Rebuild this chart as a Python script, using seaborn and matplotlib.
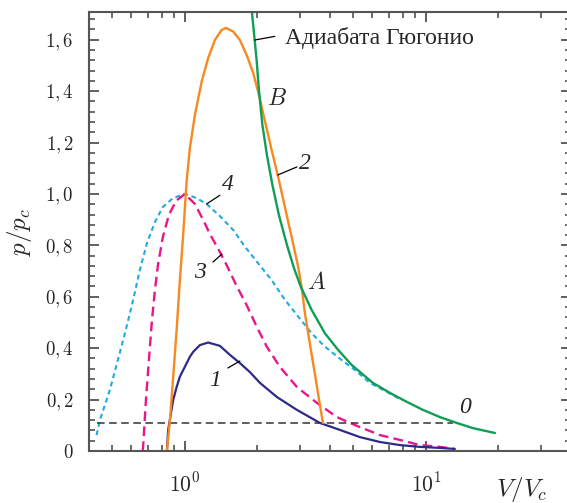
import numpy as np
import pandas as pd
import seaborn as sns
import matplotlib.pyplot as plt
from matplotlib.ticker import LogLocator, NullFormatter, FixedLocator

# curve 0: Hugoniot adiabat
v0 = [1.86, 1.897, 1.984, 2.028, 2.097, 2.189, 2.307, 2.455, 2.650, 2.834, 3.029, 3.356,
      3.810, 4.326, 4.917, 6.025, 7.090, 8.340, 9.719, 11.43, 13.45, 15.67, 19.34]
p0 = [1.80, 1.708, 1.521, 1.405, 1.268, 1.152, 1.035, 0.918, 0.802, 0.712, 0.638, 0.549,
      0.458, 0.393, 0.335, 0.265, 0.226, 0.191, 0.160, 0.132, 0.109, 0.089, 0.070]

# curve 1
v1 = [0.842, 0.852, 0.894, 0.924, 0.953, 1.000, 1.049, 1.083, 1.154, 1.249, 1.397, 1.537,
      1.691, 1.861, 2.048, 2.408, 2.915, 3.633, 4.397, 5.324, 6.445, 7.800, 9.443, 11.43, 13.19]
p1 = [0.000, 0.082, 0.198, 0.249, 0.289, 0.328, 0.367, 0.386, 0.412, 0.422, 0.409, 0.374,
      0.342, 0.307, 0.265, 0.210, 0.160, 0.109, 0.082, 0.054, 0.035, 0.023, 0.016, 0.012, 0.008]

# curve 2
v2 = [0.842, 0.867, 0.894, 0.924, 0.953, 0.984, 1.016, 1.049, 1.100, 1.173, 1.249, 1.332,
      1.420, 1.480, 1.586, 1.691, 1.803, 1.920, 2.014, 2.148, 2.290, 2.438, 2.600, 2.772,
      2.952, 3.050, 3.147, 3.302, 3.462, 3.633, 3.739]
p2 = [0.000, 0.121, 0.288, 0.471, 0.665, 0.844, 1.047, 1.179, 1.307, 1.436, 1.529, 1.599,
      1.638, 1.646, 1.632, 1.599, 1.541, 1.471, 1.397, 1.284, 1.171, 1.066, 0.949, 0.833,
      0.716, 0.638, 0.537, 0.416, 0.300, 0.179, 0.109]

# curve 3
v3 = [0.669, 0.689, 0.709, 0.730, 0.751, 0.773, 0.810, 0.858, 0.918, 1.000, 1.100, 1.191,
      1.270, 1.375, 1.489, 1.639, 1.803, 1.990, 2.189, 2.479, 2.915, 3.530, 4.272, 4.838,
      5.324, 6.445, 7.800, 9.443, 11.43, 13.19]
p3 = [0.000, 0.198, 0.354, 0.510, 0.626, 0.724, 0.833, 0.918, 0.973, 1.000, 0.961, 0.899,
      0.844, 0.786, 0.724, 0.642, 0.568, 0.482, 0.405, 0.327, 0.249, 0.187, 0.132, 0.109,
      0.093, 0.062, 0.043, 0.023, 0.016, 0.008]

# curve 4
v4 = [0.430, 0.444, 0.488, 0.527, 0.564, 0.603, 0.650, 0.696, 0.751, 0.810, 0.892, 1.000,
      1.118, 1.230, 1.397, 1.586, 1.774, 2.014, 2.290, 2.600, 2.952, 3.356, 3.810, 4.469,
      5.075, 5.855, 6.890, 7.951]
p4 = [0.062, 0.121, 0.237, 0.354, 0.459, 0.568, 0.704, 0.809, 0.891, 0.949, 0.984, 1.000,
      0.984, 0.961, 0.914, 0.860, 0.795, 0.730, 0.665, 0.588, 0.523, 0.458, 0.406, 0.354,
      0.315, 0.265, 0.230, 0.198]

# horizontal dashed level
v_level = [0.433, 12.94]
p_level = [0.109, 0.109]

y_ticks = [0, 0.2, 0.4, 0.6, 0.8, 1.0, 1.2, 1.4, 1.6]
y_labels = ['$0$', '$0,2$', '$0,4$', '$0,6$', '$0,8$', '$1,0$', '$1,2$', '$1,4$', '$1,6$']
x_ticks = [1, 10]
x_labels = ['$10^0$', '$10^1$']

sns.set_style('ticks')
plt.rcParams['font.family'] = ['Liberation Serif', 'DejaVu Serif']
plt.rcParams['mathtext.fontset'] = 'cm'
plt.rcParams['lines.scale_dashes'] = False

fig = plt.figure(figsize=(5.67, 5.03), dpi=100)
ax = fig.add_axes([0.157, 0.1034, 0.850, 0.8728])
ax.set_xscale('log')

curves = [
    (v4, p4, '#21a9e1', (0, (3.5, 2.6)), 1.5),
    (v3, p3, '#e8168a', (0, (7, 3.8)), 1.7),
    (v_level, p_level, '#333333', (0, (5.5, 3.2)), 1.1),
    (v1, p1, '#2d2a8a', '-', 1.6),
    (v2, p2, '#f7891f', '-', 1.7),
    (v0, p0, '#0f9e55', '-', 1.7),
]
for v, p, col, ls, lw in curves:
    df = pd.DataFrame({'V': v, 'p': p})
    sns.lineplot(data=df, x='V', y='p', ax=ax, sort=False, estimator=None,
                 color=col, linestyle=ls, lw=lw)

ax.set_xlim(0.4, 40)
ax.set_ylim(0, 1.708)
ax.set_xlabel('')
ax.set_ylabel('')

ax.xaxis.set_major_locator(FixedLocator(x_ticks))
ax.set_xticklabels(x_labels)
ax.xaxis.set_minor_locator(LogLocator(base=10, subs=np.arange(2, 10)))
ax.xaxis.set_minor_formatter(NullFormatter())
ax.set_yticks(y_ticks)
ax.set_yticklabels(y_labels)
ax.yaxis.set_minor_locator(FixedLocator(np.arange(0, 1.71, 0.04)))

ax.tick_params(which='both', direction='in', top=True, right=True,
               color='#444444', labelsize=13.5)
ax.tick_params(axis='y', pad=11)
ax.tick_params(axis='x', pad=16, labelsize=15.5)
ax.tick_params(which='major', length=7, width=1.2)
ax.tick_params(which='minor', length=4, width=1.1)
for s in ax.spines.values():
    s.set_color('#555555')
    s.set_linewidth(1.5)

# annotations
lab = dict(fontsize=17, style='italic', ha='center', va='center')
ax.text(1.332, 0.276, '1', **lab)
ax.text(3.15, 1.12, '2', **lab)
ax.text(1.154, 0.693, '3', **lab)
ax.text(1.508, 1.035, '4', **lab)
ax.text(14.52, 0.171, '0', **lab)
ax.text(3.53, 0.654, '$A$', fontsize=17, ha='center', va='center')
ax.text(2.408, 1.366, '$B$', fontsize=17, ha='center', va='center')
ax.text(2.60, 1.607, 'Адиабата Гюгонио', fontsize=17, ha='left', va='center')

leaders = [
    ([1.952, 2.36], [1.599, 1.613]),
    ([2.43, 2.915], [1.074, 1.105]),
    ([1.23, 1.397], [0.961, 0.995]),
    ([1.307, 1.424], [0.735, 0.766]),
    ([1.508, 1.691], [0.323, 0.350]),
]
for lx, ly in leaders:
    ax.plot(lx, ly, color='black', lw=0.9)

fig.text(20 / 567, 1 - 232 / 503, '$p/p_c$', fontsize=18, rotation=90,
         ha='center', va='center')
fig.text(522 / 567, 1 - 490 / 503, '$V/V_c$', fontsize=18, ha='center', va='center')

fig.savefig('out.png', dpi=100)
